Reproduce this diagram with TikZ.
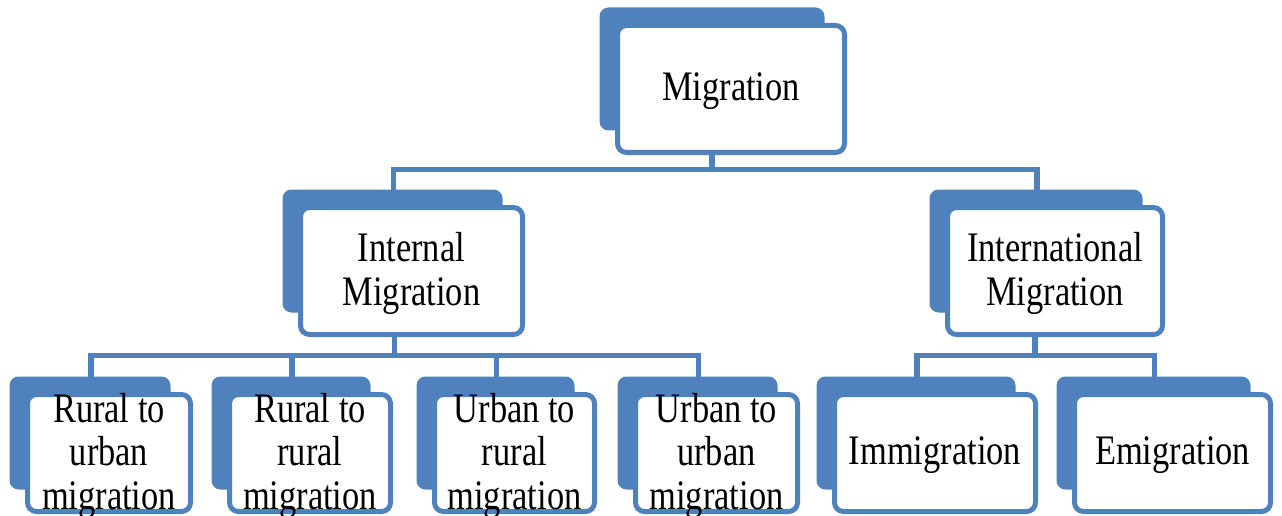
\documentclass[tikz,border=0pt]{standalone}
\usepackage{fontspec}
\setmainfont[FakeStretch=0.82]{Liberation Serif}
\usetikzlibrary{calc,backgrounds}
\definecolor{MigBlue}{RGB}{79,129,189}
\tikzset{
  card/.style={draw=MigBlue,line width=5pt,fill=white,rounded corners=9pt,inner sep=0pt,minimum height=127pt},
  low/.style={card,minimum height=117pt},
  back/.style={fill=MigBlue,rounded corners=9pt},
  link/.style={draw=MigBlue,line width=5.5pt},
  txt/.style={font=\fontsize{42}{43.5}\selectfont,align=center,inner sep=0pt,yshift=-2.5pt},
}

\begin{document}
\begin{tikzpicture}[x=1pt,y=-1pt]
\useasboundingbox (0,0) rectangle (1282,516);
% levels 1 and 2
\node[card,minimum width=227pt,label={[txt]center:Migration}] (mig) at (731,89) {};
\node[card,minimum width=222pt,label={[txt]center:Internal\\Migration}] (int) at (411.5,271) {};
\node[card,minimum width=215pt,label={[txt]center:International\\Migration}] (intl) at (1055,271) {};
% level 3
\node[low,minimum width=163pt,label={[txt]center:Rural to\\urban\\migration}] (r2u) at (109,453) {};
\node[low,minimum width=161pt,label={[txt]center:Rural to\\rural\\migration}] (r2r) at (310,453) {};
\node[low,minimum width=160pt,label={[txt]center:Urban to\\rural\\migration}] (u2r) at (514.5,453) {};
\node[low,minimum width=162pt,label={[txt]center:Urban to\\urban\\migration}] (u2u) at (716.5,453) {};
\node[low,minimum width=201pt,label={[txt]center:Immigration}] (imm) at (935,453) {};
\node[low,minimum width=196pt,label={[txt]center:Emigration}] (emi) at (1172.5,453) {};
% stacked cards behind
\begin{scope}[on background layer]
\foreach \n in {mig,int,intl,r2u,r2r,u2r,u2u,imm,emi}
  \fill[back] ($(\n.north west)+(-15.5,-15.5)$) rectangle ($(\n.south east)+(-22.5,-24.5)$);
\end{scope}
% connectors
\foreach \c in {int,intl}
  \draw[link] ([xshift=-19pt]mig.south) -- ++(0,14.5) -| ([xshift=-18pt,yshift=14pt]\c.north);
\foreach \c in {r2u,r2r,u2r,u2u}
  \draw[link] ([xshift=-17pt]int.south) -- ++(0,18.5) -| ([xshift=-18pt,yshift=14pt]\c.north);
\foreach \c in {imm,emi}
  \draw[link] ([xshift=-20pt]intl.south) -- ++(0,18.5) -| ([xshift=-18pt,yshift=14pt]\c.north);
\end{tikzpicture}
\end{document}
